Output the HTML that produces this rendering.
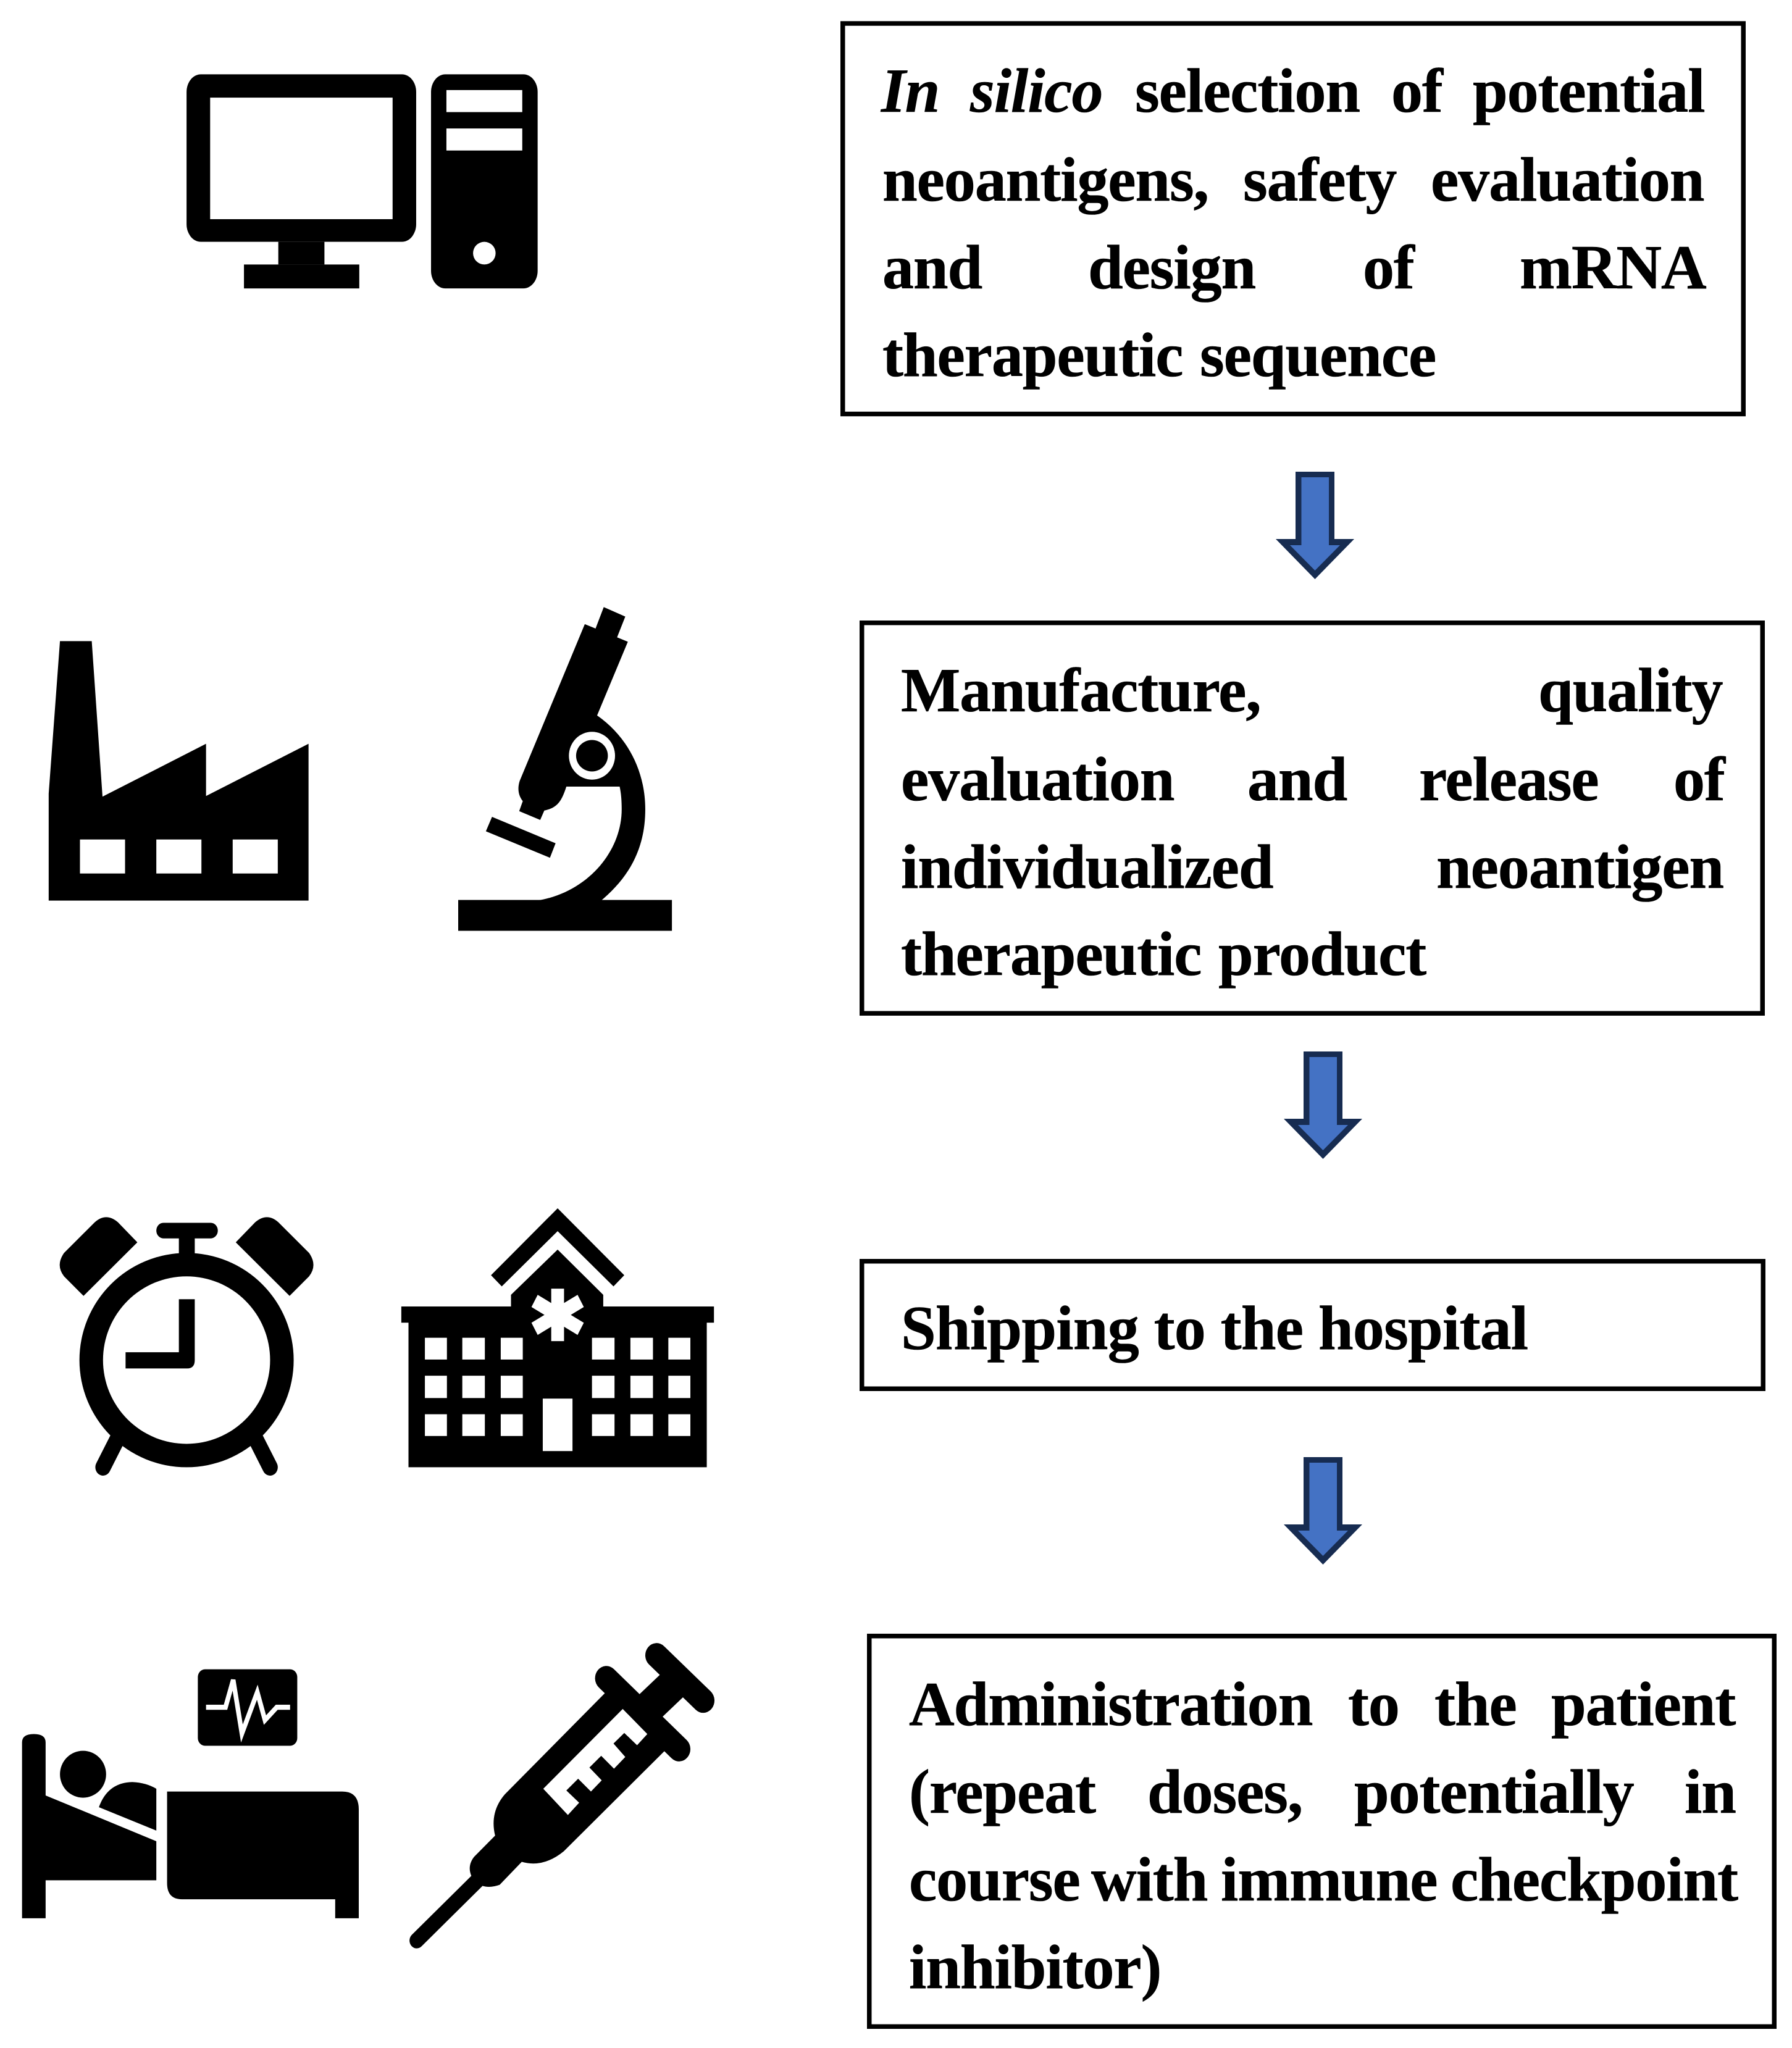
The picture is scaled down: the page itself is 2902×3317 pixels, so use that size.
<!DOCTYPE html>
<html><head><meta charset="utf-8"><style>
html,body{margin:0;padding:0;background:#fff}
svg{display:block}
text{font-family:"Liberation Serif",serif;font-weight:bold;font-size:102px;fill:#000;stroke:#000;stroke-width:0.6px;letter-spacing:-1.1px}
.i{font-style:italic}
.b{fill:#fff;stroke:#000;stroke-width:7.5}
.o{fill:#172c51}
.f{fill:#4472c4}
</style></head><body>
<svg width="2902" height="3317" viewBox="0 0 2902 3317" xmlns="http://www.w3.org/2000/svg">
<rect width="2902" height="3317" fill="#fff"/>
<g transform="scale(0.83,1.02)">
<rect x="364" y="118" width="448" height="266" rx="28" fill="#000"/>
<rect x="410" y="155" width="356" height="193" fill="#fff"/>
<rect x="543" y="384" width="90" height="36" fill="#000"/>
<rect x="476" y="420" width="225" height="38" fill="#000"/>
<rect x="841" y="118" width="208" height="340" rx="28" fill="#000"/>
<rect x="871" y="143" width="148" height="35" fill="#fff"/>
<rect x="871" y="204" width="148" height="35" fill="#fff"/>
<ellipse cx="945" cy="402" rx="22" ry="18" fill="#fff"/>
<path d="M95,1430 L95,1260 L117,1018 L179,1018 L200,1265 L402,1181 L402,1264 L602,1181 L602,1430 Z" fill="#000"/>
<rect x="156" y="1333" width="88" height="54" fill="#fff"/>
<rect x="305" y="1333" width="88" height="54" fill="#fff"/>
<rect x="454" y="1333" width="88" height="54" fill="#fff"/>
<rect x="894" y="1429" width="417" height="49" fill="#000"/>
<path d="M1178,964 L1220,979 L1204,1012 L1225,1019 L1165,1136 C1225,1170 1259,1225 1259,1285 C1259,1350 1225,1395 1170,1432 L1020,1432 C1130,1430 1213,1360 1213,1285 C1213,1272 1212,1260 1209,1249 L1105,1249 C1095,1275 1085,1283 1062,1287 L1054,1302 L1013,1288 L1020,1272 C1010,1262 1010,1250 1014,1240 L1141,991 L1162,998 Z" fill="#000"/>
<ellipse cx="1155" cy="1200" rx="45" ry="38" fill="#fff"/>
<ellipse cx="1155" cy="1200" rx="31" ry="25" fill="#000"/>
<polygon points="960,1297 1084,1339 1073,1362 948,1320" fill="#000"/>
</g>
<g transform="translate(0,1900) scale(0.83,0.904)">
<line x1="228" y1="478" x2="201" y2="527" stroke="#000" stroke-width="30" stroke-linecap="round"/>
<line x1="500" y1="478" x2="527" y2="527" stroke="#000" stroke-width="30" stroke-linecap="round"/>
<rect x="349" y="110" width="31" height="40" fill="#000"/>
<rect x="305" y="89" width="120" height="28" rx="14" fill="#000"/>
<ellipse cx="364" cy="335" rx="209" ry="192" fill="#000"/>
<ellipse cx="364" cy="335" rx="163" ry="150" fill="#fff"/>
<path d="M349,226 L380,226 L380,335 Q380,350 365,350 L245,350 L245,321 L349,321 Z" fill="#000"/>
<path d="M163,220 L125,185 Q108,165 125,143 L185,88 Q207,70 230,88 L268,124 Z" fill="#000"/>
<path d="M565,220 L603,185 Q620,165 603,143 L543,88 Q521,70 498,88 L460,124 Z" fill="#000"/>
<polygon points="1088,63 1218,183 1197,203 1088,104 979,203 958,183" fill="#000"/>
<polygon points="1088,137 1177,218 1177,239 1393,239 1393,268 1379,268 1379,527 797,527 797,268 783,268 783,239 997,239 997,218" fill="#000"/>
<g fill="#fff">
<rect x="829" y="295" width="43" height="39"/><rect x="902" y="295" width="44" height="39"/><rect x="977" y="295" width="43" height="39"/>
<rect x="1155" y="295" width="44" height="39"/><rect x="1230" y="295" width="44" height="39"/><rect x="1304" y="295" width="43" height="39"/>
<rect x="829" y="363" width="43" height="40"/><rect x="902" y="363" width="44" height="40"/><rect x="977" y="363" width="43" height="40"/>
<rect x="1155" y="363" width="44" height="40"/><rect x="1230" y="363" width="44" height="40"/><rect x="1304" y="363" width="43" height="40"/>
<rect x="829" y="432" width="43" height="39"/><rect x="902" y="432" width="44" height="39"/><rect x="977" y="432" width="43" height="39"/>
<rect x="1155" y="432" width="44" height="39"/><rect x="1230" y="432" width="44" height="39"/><rect x="1304" y="432" width="43" height="39"/>
<rect x="1059" y="404" width="58" height="94"/>
</g>
<g stroke="#fff" stroke-width="25">
<line x1="1088" y1="207" x2="1088" y2="301"/>
<line x1="1043" y1="229" x2="1133" y2="279"/>
<line x1="1133" y1="229" x2="1043" y2="279"/>
</g>
<rect x="386" y="889" width="194" height="137" rx="14" fill="#000"/>
<polyline points="402,957 440,957 455,908 472,1004 502,930 517,980 540,957 566,957" fill="none" stroke="#fff" stroke-width="9"/>
<path d="M43,1020 Q43,1005 66,1005 Q89,1005 89,1020 L89,1115 L305,1197 L305,1267 L89,1267 L89,1335 L43,1335 Z" fill="#000"/>
<ellipse cx="162" cy="1077" rx="45" ry="42" fill="#000"/>
<path d="M193,1136 Q210,1092 258,1091 Q285,1092 305,1103 L305,1178 Z" fill="#000"/>
<path d="M326,1108 L668,1108 Q700,1108 700,1140 L700,1335 L654,1335 L654,1301 L355,1301 Q326,1301 326,1272 Z" fill="#000"/>
<line x1="813" y1="1375" x2="945" y2="1255" stroke="#000" stroke-width="28" stroke-linecap="round"/>
<path d="M1182,930 L985,1113 Q955,1145 966,1187 L925,1225 Q908,1245 925,1268 Q945,1285 975,1275 L1018,1234 Q1060,1245 1100,1215 L1297,1035 Z" fill="#000"/>
<line x1="1183" y1="905" x2="1325" y2="1032" stroke="#000" stroke-width="44" stroke-linecap="round"/>
<line x1="1281" y1="864" x2="1372" y2="945" stroke="#000" stroke-width="44" stroke-linecap="round"/>
<line x1="1254" y1="968" x2="1326" y2="905" stroke="#000" stroke-width="60"/>
<path d="M1060,1103 L1215,960 L1263,1005 L1243,1025 L1218,1003 L1197,1022 L1220,1046 L1198,1067 L1173,1044 L1150,1065 L1174,1088 L1153,1108 L1128,1085 L1105,1106 L1130,1128 L1108,1150 Z" fill="#fff"/>
</g>
<rect class="b" x="1364.75" y="38" width="1458.5" height="632.5"/>
<rect class="b" x="1395.75" y="1008.75" width="1458.5" height="632.5"/>
<rect class="b" x="1395.75" y="2042.75" width="1459.5" height="206.5"/>
<rect class="b" x="1407.75" y="2649.75" width="1465.5" height="632.5"/>
<polygon class="o" points="2098,764 2161,764 2161,873 2193,873 2129.5,938 2066,873 2098,873"/>
<polygon class="f" points="2107.5,773 2152,773 2152,883 2170,883 2129.5,924 2089,883 2107.5,883"/>
<polygon class="o" points="2111,1703 2174,1703 2174,1812 2206,1812 2142.5,1877 2079,1812 2111,1812"/>
<polygon class="f" points="2120.5,1712 2165,1712 2165,1822 2183,1822 2142.5,1863 2102,1822 2120.5,1822"/>
<polygon class="o" points="2111,2360 2174,2360 2174,2469 2206,2469 2142.5,2534 2079,2469 2111,2469"/>
<polygon class="f" points="2120.5,2369 2165,2369 2165,2479 2183,2479 2142.5,2520 2102,2479 2120.5,2479"/>
<text class="i" x="1427" y="181">In</text><text class="i" x="1571" y="181">silico</text><text x="1838" y="181">selection</text><text x="2253" y="181">of</text><text x="2385" y="181">potential</text>
<text x="1429" y="325">neoantigens,</text><text x="2013" y="325">safety</text><text x="2317" y="325">evaluation</text>
<text x="1429" y="467">and</text><text x="1762" y="467">design</text><text x="2207" y="467">of</text><text x="2461" y="467">mRNA</text>
<text x="1429" y="609">therapeutic</text><text x="1943" y="609">sequence</text>
<text x="1459" y="1152">Manufacture,</text><text x="2491" y="1152">quality</text>
<text x="1459" y="1296">evaluation</text><text x="2020" y="1296">and</text><text x="2298" y="1296">release</text><text x="2710" y="1296">of</text>
<text x="1459" y="1438">individualized</text><text x="2326" y="1438">neoantigen</text>
<text x="1459" y="1579">therapeutic</text><text x="1973" y="1579">product</text>
<text x="1459" y="2185" style="letter-spacing:-0.8px">Shipping to the hospital</text>
<text x="1472" y="2794">Administration</text><text x="2183" y="2794">to</text><text x="2323" y="2794">the</text><text x="2512" y="2794">patient</text>
<text x="1472" y="2936">(repeat</text><text x="1858" y="2936">doses,</text><text x="2193" y="2936">potentially</text><text x="2728" y="2936">in</text>
<text x="1472" y="3078">course</text><text x="1767" y="3078">with</text><text x="1977" y="3078">immune</text><text x="2349" y="3078">checkpoint</text>
<text x="1472" y="3220">inhibitor)</text>
</svg>
</body></html>
